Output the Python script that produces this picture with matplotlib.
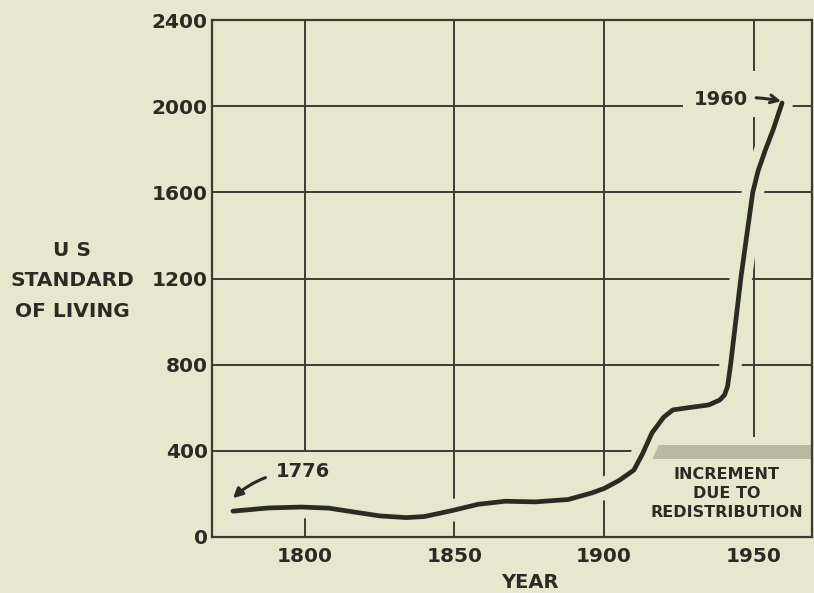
import matplotlib.pyplot as plt
from matplotlib.patches import Rectangle

# data
years = [1776, 1788, 1799, 1808, 1816, 1825, 1834, 1840, 1849, 1858, 1867,
         1877, 1888, 1896, 1900, 1905, 1910, 1913, 1916, 1920, 1923, 1928,
         1935, 1938.7, 1940.3, 1941.3, 1942.3, 1944, 1945.7, 1947.7, 1949.7,
         1951.5, 1954, 1956.5, 1959.5]
living = [120, 135, 139, 134, 117, 98, 90, 95, 122, 152, 166,
          163, 174, 205, 225, 262, 311, 390, 483, 557, 590, 600,
          613, 636, 660, 700, 800, 1000, 1200, 1400, 1600,
          1700, 1800, 1890, 2015]

year_ticks = [1800, 1850, 1900, 1950]
level_ticks = [0, 400, 800, 1200, 1600, 2000, 2400]

band_start = 1916
band_low, band_high = 360, 425

BG = '#e5e8cc'
INK = '#2b2b26'
GRID = '#3c3c34'

plt.rcParams['font.family'] = ['DejaVu Sans']
plt.rcParams['font.weight'] = 'bold'

fig = plt.figure(figsize=(8.14, 5.93), dpi=100, facecolor=BG)
ax = fig.add_axes([212 / 814, 56 / 593, 600 / 814, 517 / 593])
ax.set_facecolor(BG)

x0, x1 = 1769, 1969.5
ax.set_xlim(x0, x1)
ax.set_ylim(0, 2400)

# grid
for y in level_ticks[1:-1]:
    ax.axhline(y, color=GRID, lw=1.4, zorder=0.5)
for x in year_ticks:
    ax.axvline(x, color=GRID, lw=1.4, zorder=0.5)

# blank patches where the drawing leaves the grid out
ax.add_patch(Rectangle((1918, 0), x1 - 1918, 462, fc=BG, ec='none', zorder=1))
ax.add_patch(Rectangle((1926.5, 1950), 31.5, 215, fc=BG, ec='none', zorder=1))
ax.add_patch(Rectangle((1798, 100), 4, 295, fc=BG, ec='none', zorder=1))

# shaded increment band
ax.fill_between([band_start, x1], band_low, band_high, color='#b9baa2',
                lw=0, zorder=1.2)

# curve with a halo that breaks the grid lines
ax.plot(years, living, color=BG, lw=16, solid_capstyle='round', zorder=1.5)
ax.plot(years, living, color=INK, lw=3.4, solid_capstyle='round',
        solid_joinstyle='round', zorder=3)

ax.annotate('1960', xy=(years[-1] + 0.6, living[-1] + 5), xytext=(1939, 2030),
            fontsize=14, fontweight='bold', color=INK, ha='center', va='center',
            arrowprops=dict(arrowstyle='->', color=INK, lw=2.2,
                            shrinkA=4, shrinkB=2,
                            connectionstyle='arc3,rad=-0.1'),
            zorder=4)

ax.annotate('1776', xy=(years[0], 180), xytext=(1799.5, 306),
            fontsize=14, fontweight='bold', color=INK, ha='center', va='center',
            arrowprops=dict(arrowstyle='-|>', color=INK, lw=2.2,
                            mutation_scale=14, shrinkA=6, shrinkB=0,
                            connectionstyle='arc3,rad=0.2'),
            zorder=4)

ax.text(1941, 203, 'INCREMENT\nDUE TO\nREDISTRIBUTION', fontsize=11.5,
        fontweight='bold', color=INK, ha='center', va='center',
        linespacing=1.35, zorder=2)

for s in ax.spines.values():
    s.set_color(GRID)
    s.set_linewidth(1.6)
    s.set_zorder(2.5)

ax.set_xticks(year_ticks)
ax.set_yticks(level_ticks)
ax.tick_params(length=0, labelsize=14.5, colors=INK)
ax.tick_params(axis='x', pad=7)
ax.tick_params(axis='y', pad=3)
for lab in ax.get_xticklabels() + ax.get_yticklabels():
    lab.set_fontweight('bold')

fig.text(530 / 814, 1 - 583 / 593, 'YEAR', fontsize=14, fontweight='bold',
         color=INK, ha='center', va='center')
fig.text(72 / 814, 1 - 281 / 593, 'U S\nSTANDARD\nOF LIVING', fontsize=14.5,
         fontweight='bold', color=INK, ha='center', va='center',
         linespacing=1.75)

fig.savefig('out.png', dpi=100, facecolor=BG)
